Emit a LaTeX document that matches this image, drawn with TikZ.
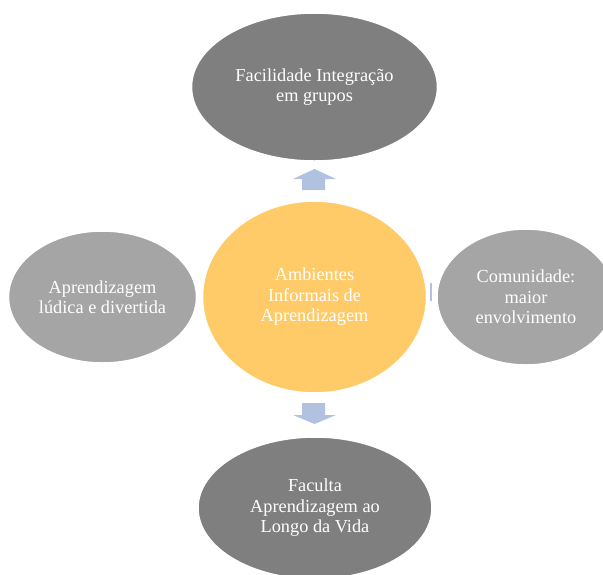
\documentclass[tikz,border=0pt]{standalone}
\usepackage{fontspec}
\setmainfont{Liberation Serif}
\usetikzlibrary{shapes.geometric}
\definecolor{darkgrey}{HTML}{7F7F7F}
\definecolor{lightgrey}{HTML}{A5A5A5}
\definecolor{sunyellow}{HTML}{FFCB69}
\definecolor{arrowblue}{HTML}{B0C2DF}
\tikzset{
  bubble/.style={ellipse, draw=white, line width=1.5pt, inner sep=0pt,
    text=white, align=center, font=\fontsize{18.3}{20.5}\selectfont},
  blockarrow/.style={fill=arrowblue, draw=none}
}
\begin{document}
\begin{tikzpicture}[x=1pt,y=-1pt]
  \useasboundingbox (0,0) rectangle (603,574);
  \clip (0,0) rectangle (603,574);

  % central idea
  \node[bubble, fill=sunyellow, minimum width=224pt, minimum height=192pt] (hub) at (314.5,297)
    {Ambientes\\Informais de\\Aprendizagem};

  % surrounding ideas
  \node[bubble, fill=darkgrey, minimum width=246pt, minimum height=148pt] (top) at (314.5,87)
    {Facilidade Integração\\em grupos};
  \node[bubble, fill=lightgrey, minimum width=188pt, minimum height=132pt] (left) at (102.5,297)
    {Aprendizagem\\lúdica e divertida};
  \node[bubble, fill=lightgrey, minimum width=178pt, minimum height=136pt] (right) at (526,297)
    {Comunidade:\\maior\\envolvimento};
  \node[bubble, fill=darkgrey, minimum width=234pt, minimum height=142pt] (bottom) at (315,508)
    {Faculta\\Aprendizagem ao\\Longo da Vida};

  % block arrows between the hub and the outer bubbles (shifts are in page units, y up)
  \coordinate (up) at (314.5,179);
  \coordinate (down) at (314.5,415);
  \fill[blockarrow] ([xshift=-12.5pt,yshift=-11pt]up) -- ([xshift=-12.5pt]up) -- ([xshift=-21.5pt]up)
    -- ([yshift=10pt]up) -- ([xshift=21.5pt]up) -- ([xshift=10.5pt]up) -- ([xshift=10.5pt,yshift=-11pt]up) -- cycle;
  \fill[blockarrow] ([xshift=-12.5pt,yshift=12pt]down) -- ([xshift=-12.5pt]down) -- ([xshift=-21.5pt]down)
    -- ([yshift=-9pt]down) -- ([xshift=21.5pt]down) -- ([xshift=10.5pt]down) -- ([xshift=10.5pt,yshift=12pt]down) -- cycle;
  \coordinate (side) at (431.2,292);
  \fill[blockarrow] ([xshift=-1.2pt,yshift=-9pt]side) rectangle ([xshift=1.2pt,yshift=9pt]side);
\end{tikzpicture}
\end{document}
